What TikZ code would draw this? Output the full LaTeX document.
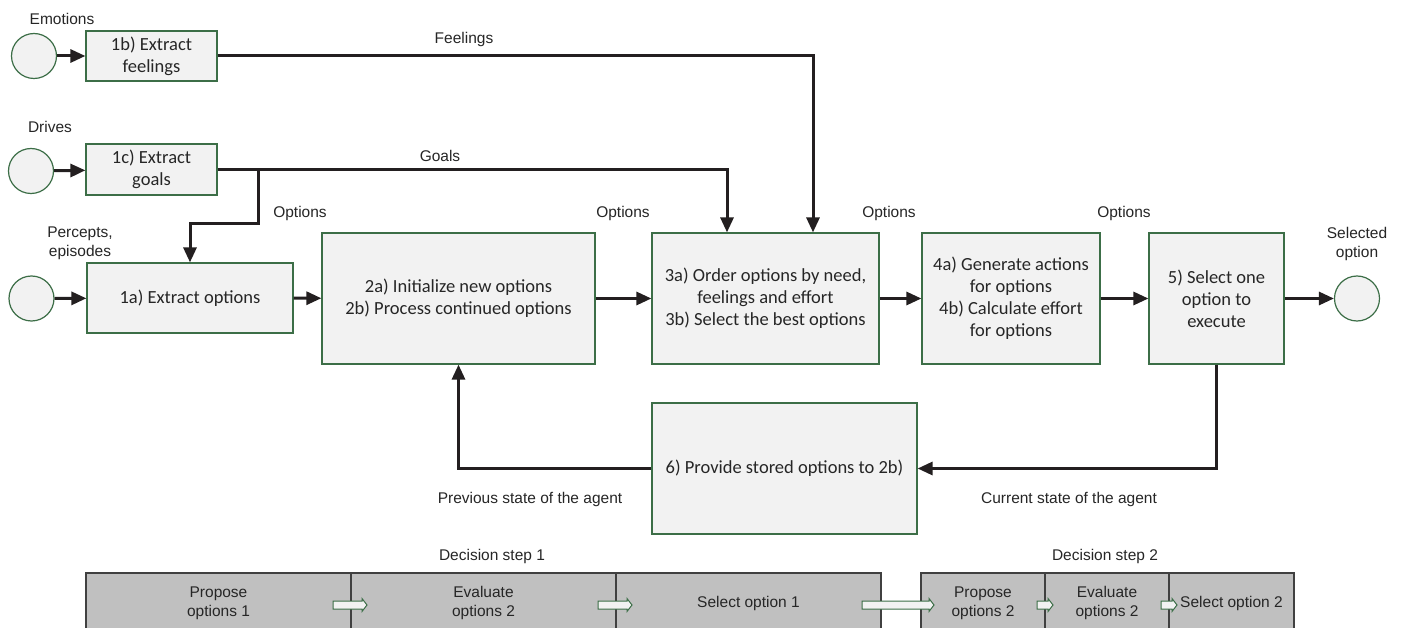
\documentclass[tikz,border=0pt]{standalone}
\usepackage{fontspec}
\setmainfont{Carlito}
\newfontfamily\arialf{Liberation Sans}
\usetikzlibrary{arrows.meta,calc}
\definecolor{boxfill}{HTML}{F2F2F2}
\definecolor{boxline}{HTML}{3C6E47}
\definecolor{barfill}{HTML}{C0C0C0}
\definecolor{barline}{HTML}{404040}
\definecolor{ink}{HTML}{231F20}
\definecolor{txt}{HTML}{262626}
\begin{document}
\begin{tikzpicture}[x=1pt,y=-1pt,
 proc/.style={draw=boxline, fill=boxfill, line width=1.2pt, inner sep=0pt, align=center, font=\fontsize{18.5}{22}\selectfont, text=txt},
 term/.style={circle, draw=boxline, fill=boxfill, line width=1.2pt, minimum size=45pt, inner sep=0pt},
 lbl/.style={font=\arialf\fontsize{15.5}{19}\selectfont, text=txt, align=center, inner sep=0pt},
 flow/.style={draw=ink, line width=3pt, -{Triangle[length=15pt,width=13pt]}},
 bar/.style={draw=barline, fill=barfill, line width=1.2pt, inner sep=0pt, minimum height=60pt, align=center, font=\arialf\fontsize{15.5}{19}\selectfont, text=txt},
 blk/.style={draw=boxline, fill=boxfill, line width=1pt, line join=miter}
]
\useasboundingbox (0,0) rectangle (1406,628);
\clip (0,0) rectangle (1406,628);
\fill[white] (0,0) rectangle (1406,628);

% terminals
\node[term] (cE) at (34,56) {};
\node[term] (cD) at (31,171) {};
\node[term] (cP) at (31.5,298.5) {};
\node[term] (cS) at (1357,298.5) {};

% process boxes
\node[proc, minimum width=131pt, minimum height=50pt] (b1b) at (151.5,56) {1b) Extract\\feelings};
\node[proc, minimum width=131pt, minimum height=51pt] (b1c) at (151.5,169.5) {1c) Extract\\goals};
\node[proc, minimum width=206pt, minimum height=70pt] (b1a) at (190,298) {1a) Extract options};
\node[proc, minimum width=273pt, minimum height=131pt] (b2) at (458.5,298.5) {2a) Initialize new options\\2b) Process continued options};
\node[proc, minimum width=227pt, minimum height=131pt] (b3) at (765.5,298.5) {3a) Order options by need,\\feelings and effort\\3b) Select the best options};
\node[proc, minimum width=178pt, minimum height=131pt] (b4) at (1011,298.5) {4a) Generate actions\\for options\\4b) Calculate effort\\for options};
\node[proc, minimum width=135pt, minimum height=131pt] (b5) at (1216.5,298.5) {5) Select one\\option to\\execute};
\node[proc, minimum width=265pt, minimum height=131pt] (b6) at (784.5,468.5) {6) Provide stored options to 2b)};

% helper coordinates
\coordinate (fx) at (813,0);
\coordinate (gx) at (727,0);
\coordinate (br) at (258,170);
\coordinate (bk) at (258,224);

% connectors
\draw[flow] (cE) -- (b1b);
\draw[flow] (cD) -- (b1c);
\draw[flow] (cP) -- (b1a);
\draw[flow] (b1a) -- (b2);
\draw[flow] (b2) -- (b3);
\draw[flow] (b3) -- (b4);
\draw[flow] (b4) -- (b5);
\draw[flow] (b5) -- (cS);
\draw[flow] (b1b.east) -| (fx |- b3.north);
\draw[flow] (b1c.east) -| (gx |- b3.north);
\draw[flow] (br) -- (bk) -| (b1a.north);
\draw[flow] (b5.south) |- (b6.east);
\draw[flow] (b6.west) -| (b2.south);

% labels
\node[lbl] (lE) at (62,19) {Emotions};
\node[lbl] (lD) at (50,127) {Drives};
\node[lbl] (lP) at (80,243.5) {Percepts,\\episodes};
\node[lbl] (lS) at (1357,243.5) {Selected\\option};
\node[lbl] (lF) at (464,39) {Feelings};
\node[lbl] (lG) at (440,156) {Goals};
\node[lbl] (lO1) at (300,213) {Options};
\node[lbl] (lO2) at (623,213) {Options};
\node[lbl] (lO3) at (889,213) {Options};
\node[lbl] (lO4) at (1124,213) {Options};
\node[lbl] (lPrev) at (530,499) {Previous state of the agent};
\node[lbl] (lCur) at (1069,499) {Current state of the agent};
\node[lbl] (lD1) at (492,556) {Decision step 1};
\node[lbl] (lD2) at (1105,556) {Decision step 2};

% decision bars
\node[bar, minimum width=265pt] (p1) at (218.5,603) {Propose\\options 1};
\node[bar, minimum width=265pt] (e1) at (483.5,603) {Evaluate\\options 2};
\node[bar, minimum width=265pt] (s1) at (748.5,603) {Select option 1};
\node[bar, minimum width=124pt] (p2) at (983,603) {Propose\\options 2};
\node[bar, minimum width=124pt] (e2) at (1107,603) {Evaluate\\options 2};
\node[bar, minimum width=125pt] (s2) at (1231.5,603) {Select option 2};

% block arrows
\foreach \xa/\xb in {333/367, 598/632, 862/934, 1037/1053, 1161/1177}{
  \draw[blk] (\xa,601) -- (\xb-5,601) -- (\xb-5,598.5) -- (\xb,605) -- (\xb-5,611.5) -- (\xb-5,609) -- (\xa,609) -- cycle;
}
\end{tikzpicture}
\end{document}
